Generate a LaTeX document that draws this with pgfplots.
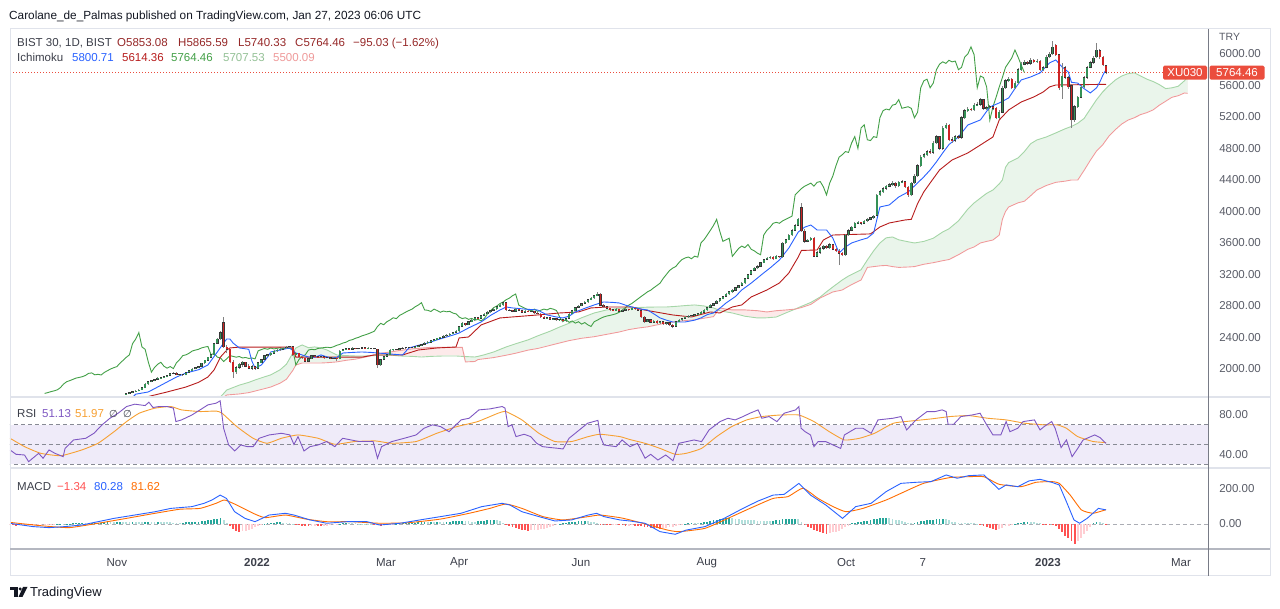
\documentclass[border=0pt]{standalone}
\usepackage{fontspec}
\setmainfont{Liberation Sans}
\newfontfamily\dejavu{DejaVu Sans}
\usepackage{pgfplots}
\usepackage{pgfplotstable}
\pgfplotsset{compat=1.18}

\definecolor{tvtext}{RGB}{19,23,34}
\definecolor{tvdark}{RGB}{60,63,74}
\definecolor{axgray}{RGB}{90,93,104}
\definecolor{maroon}{RGB}{150,40,40}
\definecolor{tenkan}{RGB}{41,98,255}
\definecolor{kijun}{RGB}{183,28,28}
\definecolor{chikou}{RGB}{67,160,71}
\definecolor{spanA}{RGB}{165,214,167}
\definecolor{spanB}{RGB}{239,154,154}
\definecolor{cloudG}{RGB}{234,245,235}
\definecolor{cloudR}{RGB}{253,234,234}
\definecolor{upc}{RGB}{52,145,86}
\definecolor{dnc}{RGB}{205,36,36}
\definecolor{edgec}{RGB}{55,55,55}
\definecolor{wick}{RGB}{130,130,130}
\definecolor{rsiline}{RGB}{126,87,194}
\definecolor{rsima}{RGB}{247,160,50}
\definecolor{rsiband}{RGB}{239,235,249}
\definecolor{dashgray}{RGB}{135,138,148}
\definecolor{macdline}{RGB}{41,98,255}
\definecolor{sigline}{RGB}{255,109,0}
\definecolor{hgreen}{RGB}{38,166,154}
\definecolor{hlgreen}{RGB}{178,223,219}
\definecolor{hred}{RGB}{255,82,82}
\definecolor{hpink}{RGB}{255,205,210}
\definecolor{labelred}{RGB}{235,77,61}
\definecolor{sepc}{RGB}{224,227,235}
\definecolor{scalec}{RGB}{120,123,134}
\definecolor{timec}{RGB}{180,183,192}

\newcommand\tvf{\fontsize{11.5}{13}\selectfont}

\pgfplotstableread{
k o h l c
-41 1680 1698 1672 1690
-40 1690 1708 1684 1700
-39 1700 1718 1694 1712
-38 1712 1730 1706 1722
-37 1722 1742 1716 1735
-36 1735 1770 1730 1762
-35 1762 1818 1756 1808
-34 1808 1846 1800 1838
-33 1838 1862 1830 1852
-32 1852 1876 1844 1868
-31 1868 1892 1860 1884
-30 1884 1902 1876 1893
-29 1893 1910 1886 1902
-28 1902 1926 1894 1918
-27 1918 1952 1912 1944
-26 1944 1962 1936 1950
-25 1950 1956 1918 1926
-24 1926 1940 1916 1932
-23 1932 1940 1914 1924
-22 1924 1962 1918 1956
-21 1956 1984 1950 1978
-20 1978 2008 1972 2000
-19 2000 2024 1994 2016
-18 2016 2040 2008 2030
-17 2030 2082 2024 2074
-16 2074 2118 2066 2110
-15 2110 2156 2102 2148
-14 2148 2190 2140 2180
-13 2180 2332 2176 2322
-12 2322 2392 2314 2380
-11 2380 2480 2372 2462
-10 2590 2660 2270 2280
-9 2275 2300 2200 2250
-8 2250 2260 2070 2090
-7 2090 2110 1890 1960
-6 1960 2040 1940 2020
-5 2020 2080 2000 2060
-4 2060 2100 2030 2085
-3 2085 2090 2020 2035
-2 2035 2060 1995 2010
-1 2010 2050 1990 2030
0 2030 2040 1990 2005
1 2005 2090 2000 2080
2 2080 2130 2070 2120
3 2120 2180 2110 2170
4 2170 2195 2150 2180
5 2180 2212 2170 2200
6 2200 2236 2192 2228
7 2228 2252 2218 2240
8 2240 2262 2230 2250
9 2250 2278 2242 2268
10 2268 2288 2258 2278
11 2278 2296 2268 2286
12 2286 2295 2170 2180
13 2180 2215 2172 2200
14 2200 2208 2140 2150
15 2150 2162 2130 2140
16 2140 2150 2085 2095
17 2095 2140 2088 2130
18 2130 2180 2124 2170
19 2170 2176 2150 2160
20 2160 2168 2142 2150
21 2150 2166 2144 2158
22 2158 2162 2132 2140
23 2140 2154 2134 2146
24 2146 2150 2126 2134
25 2134 2150 2128 2140
26 2140 2146 2100 2128
27 2128 2240 2124 2230
28 2230 2256 2222 2246
29 2246 2270 2238 2260
30 2260 2266 2242 2250
31 2250 2274 2244 2266
32 2266 2272 2248 2255
33 2255 2270 2248 2262
34 2262 2280 2254 2270
35 2270 2276 2248 2256
36 2256 2274 2250 2266
37 2266 2272 2252 2260
38 2260 2266 2248 2256
39 2250 2260 2010 2050
40 2050 2130 2040 2120
41 2120 2170 2110 2160
42 2160 2190 2150 2180
43 2180 2248 2172 2240
44 2240 2260 2232 2250
45 2250 2256 2236 2244
46 2244 2268 2238 2260
47 2260 2274 2252 2266
48 2266 2280 2258 2272
49 2272 2284 2264 2276
50 2276 2282 2262 2270
51 2270 2290 2264 2282
52 2282 2308 2276 2300
53 2300 2320 2292 2312
54 2312 2338 2304 2330
55 2330 2350 2322 2340
56 2340 2370 2334 2362
57 2362 2380 2354 2372
58 2372 2398 2364 2390
59 2390 2410 2382 2402
60 2402 2428 2396 2420
61 2420 2440 2412 2432
62 2432 2454 2424 2446
63 2446 2470 2438 2462
64 2462 2490 2454 2480
65 2480 2550 2474 2540
66 2540 2592 2532 2580
67 2580 2590 2552 2562
68 2562 2610 2556 2600
69 2600 2632 2592 2622
70 2622 2660 2614 2650
71 2650 2658 2632 2640
72 2640 2690 2634 2680
73 2680 2710 2672 2700
74 2700 2732 2692 2722
75 2722 2752 2714 2742
76 2742 2770 2734 2760
77 2760 2800 2752 2790
78 2790 2822 2782 2812
79 2812 2852 2806 2842
80 2842 2850 2740 2750
81 2750 2760 2736 2745
82 2745 2752 2720 2730
83 2730 2770 2724 2760
84 2760 2766 2734 2742
85 2742 2750 2712 2720
86 2720 2746 2714 2736
87 2736 2744 2718 2726
88 2726 2742 2720 2732
89 2732 2738 2702 2710
90 2710 2718 2692 2700
91 2700 2706 2652 2660
92 2660 2668 2632 2640
93 2640 2660 2634 2650
94 2650 2656 2622 2630
95 2630 2650 2624 2642
96 2642 2648 2612 2620
97 2620 2640 2614 2630
98 2630 2636 2602 2612
99 2612 2650 2600 2640
100 2640 2710 2634 2700
101 2700 2750 2694 2740
102 2740 2790 2734 2780
103 2780 2812 2772 2800
104 2800 2840 2794 2830
105 2830 2862 2822 2850
106 2850 2890 2842 2880
107 2880 2912 2872 2900
108 2900 2940 2892 2930
109 2930 2975 2922 2952
110 2950 2960 2800 2810
111 2810 2820 2780 2790
112 2790 2800 2760 2770
113 2770 2778 2742 2752
114 2752 2760 2730 2740
115 2740 2770 2734 2760
116 2760 2766 2722 2732
117 2732 2756 2726 2746
118 2746 2770 2740 2760
119 2760 2766 2742 2750
120 2750 2780 2744 2770
121 2770 2776 2752 2760
122 2760 2766 2734 2742
123 2742 2750 2650 2660
124 2660 2668 2590 2600
125 2600 2640 2594 2630
126 2630 2636 2582 2592
127 2592 2620 2586 2610
128 2610 2616 2572 2582
129 2582 2610 2576 2600
130 2600 2606 2562 2570
131 2570 2598 2564 2590
132 2590 2596 2552 2560
133 2560 2566 2515 2540
134 2540 2610 2534 2600
135 2600 2630 2594 2620
136 2620 2650 2614 2642
137 2642 2668 2636 2660
138 2660 2680 2652 2672
139 2672 2688 2664 2680
140 2680 2698 2672 2690
141 2690 2710 2682 2702
142 2702 2730 2694 2720
143 2720 2760 2712 2750
144 2750 2790 2742 2780
145 2780 2820 2772 2810
146 2810 2842 2802 2832
147 2832 2872 2824 2862
148 2862 2902 2854 2892
149 2892 2932 2884 2922
150 2922 2960 2914 2950
151 2950 2990 2942 2980
152 2980 3012 2970 3000
153 3000 3042 2990 3032
154 3032 3070 3022 3060
155 3060 3100 3050 3090
156 3090 3160 3080 3150
157 3150 3212 3140 3200
158 3200 3262 3190 3250
159 3250 3292 3240 3280
160 3280 3315 3268 3302
161 3302 3362 3292 3350
162 3350 3402 3340 3390
163 3390 3424 3378 3410
164 3410 3436 3398 3422
165 3422 3430 3388 3400
166 3400 3444 3392 3432
167 3432 3440 3408 3420
168 3420 3612 3414 3600
169 3600 3656 3590 3642
170 3642 3714 3632 3700
171 3700 3774 3690 3760
172 3760 3836 3750 3822
173 3822 3914 3810 3900
174 4050 4110 3740 3750
175 3750 3780 3600 3620
176 3620 3656 3606 3640
177 3640 3676 3626 3660
178 3660 3670 3420 3430
179 3430 3494 3416 3480
180 3480 3546 3466 3530
181 3530 3576 3516 3560
182 3560 3572 3526 3540
183 3540 3596 3526 3580
184 3580 3590 3506 3520
185 3520 3530 3486 3500
186 3500 3520 3320 3470
187 3470 3480 3436 3450
188 3450 3710 3440 3700
189 3700 3776 3690 3760
190 3760 3816 3748 3800
191 3800 3866 3790 3850
192 3850 3878 3836 3862
193 3862 3872 3834 3850
194 3850 3896 3840 3880
195 3880 3916 3868 3900
196 3900 3936 3888 3920
197 3920 3956 3908 3940
198 3950 4220 3940 4210
199 4210 4270 4196 4250
200 4250 4310 4236 4290
201 4290 4340 4276 4320
202 4320 4360 4306 4340
203 4340 4382 4326 4360
204 4360 4372 4300 4322
205 4322 4392 4310 4370
206 4370 4400 4356 4380
207 4380 4392 4298 4312
208 4312 4324 4190 4210
209 4210 4376 4196 4360
210 4360 4470 4346 4450
211 4450 4600 4436 4580
212 4580 4712 4566 4690
213 4690 4742 4674 4720
214 4720 4782 4704 4760
215 4760 4790 4730 4750
216 4750 4892 4736 4870
217 4870 4972 4856 4950
218 4950 4964 4786 4800
219 4800 5082 4786 5060
220 5060 5124 5044 5100
221 5100 5112 4890 4910
222 4910 4940 4870 4900
223 4900 4976 4884 4950
224 4950 4966 4920 4940
225 4940 5212 4926 5190
226 5190 5302 5176 5280
227 5280 5324 5264 5300
228 5300 5316 5270 5290
229 5290 5372 5276 5350
230 5350 5384 5334 5360
231 5360 5442 5344 5420
232 5420 5432 5290 5310
233 5310 5344 5294 5320
234 5320 5352 5304 5330
235 5330 5342 5290 5310
236 5310 5322 5170 5190
237 5190 5284 5176 5260
238 5260 5592 5246 5570
239 5570 5686 5556 5660
240 5660 5704 5640 5680
241 5680 5692 5550 5570
242 5570 5654 5556 5630
243 5630 5822 5616 5800
244 5800 5902 5786 5870
245 5870 5926 5856 5900
246 5900 5914 5860 5880
247 5880 5944 5866 5920
248 5920 5934 5880 5900
249 5900 5932 5886 5910
250 5910 5922 5780 5800
251 5800 5852 5786 5830
252 5830 5982 5816 5960
253 5960 6024 5946 6000
254 6000 6170 5986 6090
255 6110 6130 5980 5990
256 5990 6000 5540 5570
257 5580 5880 5430 5720
258 5830 5850 5680 5700
259 5700 5720 5560 5580
260 5600 5620 5060 5160
261 5160 5350 5140 5330
262 5330 5470 5316 5450
263 5450 5600 5436 5580
264 5580 5722 5566 5700
265 5700 5852 5686 5830
266 5830 5912 5816 5890
267 5890 5974 5876 5950
268 5960 6140 5950 6050
269 6040 6060 5940 5960
270 5960 5980 5850 5860
271 5853.08 5865.59 5740.33 5764.46
}\candles

\pgfplotstableread[row sep=\\]{
k T\\
-40 1600\\ -38 1680\\ -34 1708\\ -31 1771\\ -28 1835\\ -25 1898\\ -22 1949\\ -18 1990\\ -15 2051\\ -12 2216\\
-10 2330\\ -9 2381\\ -8 2381\\ -7 2330\\ -5 2267\\ -2 2250\\ -1 2100\\ 0 2013\\ 2 2050\\ 4 2150\\
5 2216\\ 8 2241\\ 11 2267\\ 13 2203\\ 15 2178\\ 17 2152\\ 19 2150\\ 21 2178\\ 24 2140\\ 26 2145\\
28 2203\\ 31 2210\\ 34 2216\\ 37 2210\\ 39 2203\\ 43 2190\\ 47 2178\\ 49 2267\\ 52 2300\\ 55 2330\\
58 2370\\ 60 2394\\ 63 2430\\ 65 2457\\ 68 2521\\ 72 2597\\ 75 2680\\ 78 2749\\ 80 2787\\ 82 2775\\
86 2760\\ 90 2749\\ 93 2686\\ 96 2660\\ 98 2648\\ 100 2670\\ 102 2724\\ 105 2770\\ 108 2813\\ 111 2851\\
114 2845\\ 116 2838\\ 118 2810\\ 120 2787\\ 123 2760\\ 125 2749\\ 127 2700\\ 129 2648\\ 131 2620\\ 133 2597\\
137 2597\\ 140 2620\\ 142 2648\\ 144 2690\\ 146 2711\\ 148 2770\\ 150 2838\\ 153 2920\\ 155 3003\\ 158 3090\\
160 3155\\ 162 3220\\ 164 3282\\ 167 3384\\ 170 3536\\ 173 3739\\ 175 3800\\ 177 3828\\ 179 3765\\ 182 3765\\
184 3663\\ 186 3473\\ 188 3549\\ 190 3600\\ 193 3640\\ 195 3663\\ 197 3727\\ 199 4057\\ 202 4083\\ 205 4184\\
208 4248\\ 211 4362\\ 213 4440\\ 215 4527\\ 217 4630\\ 219 4743\\ 221 4850\\ 224 4946\\ 227 5098\\ 231 5162\\
234 5327\\ 237 5378\\ 240 5441\\ 242 5560\\ 244 5670\\ 247 5708\\ 250 5759\\ 253 5886\\ 255 5924\\ 257 5835\\
259 5771\\ 260 5640\\ 262 5630\\ 264 5560\\ 266 5505\\ 268 5570\\ 269 5640\\ 270 5730\\ 271 5800.71\\
}\tenkantab

\pgfplotstableread[row sep=\\]{
k J\\
-36 1600\\ -34 1650\\ -28 1708\\ -22 1771\\ -18 1830\\ -15 1898\\ -13 1990\\ -11 2152\\ -9 2240\\ -8 2267\\
-5 2278\\ 12 2278\\ 13 2150\\ 34 2150\\ 38 2178\\ 47 2178\\ 52 2241\\ 58 2267\\ 64 2279\\ 65 2394\\
68 2406\\ 72 2559\\ 78 2648\\ 90 2686\\ 97 2711\\ 103 2724\\ 107 2775\\ 112 2787\\ 120 2787\\ 124 2749\\
133 2686\\ 139 2660\\ 145 2724\\ 148 2711\\ 152 2787\\ 155 2813\\ 158 2914\\ 163 3003\\ 167 3092\\ 170 3219\\
173 3422\\ 174 3505\\ 179 3511\\ 181 3638\\ 184 3701\\ 196 3715\\ 199 3803\\ 202 3854\\ 207 3892\\ 209 3900\\
211 4100\\ 213 4250\\ 215 4362\\ 218 4527\\ 222 4654\\ 227 4743\\ 231 4844\\ 235 4946\\ 237 5162\\ 240 5289\\
244 5390\\ 248 5454\\ 251 5517\\ 253 5581\\ 255 5606\\ 271 5614.36\\
}\kijuntab

\pgfplotstableread[row sep=\\]{
k A B\\
-12 1600 1590\\ -9 1733 1670\\ -5 1795 1683\\ -2 1830 1700\\ 0 1860 1720\\ 3 1900 1750\\ 5 1925 1771\\ 8 1990 1820\\
10 2060 1870\\ 12 2200 1980\\ 13 2267 2051\\ 15 2305 2076\\ 17 2270 2076\\ 19 2280 2076\\ 21 2267 2076\\ 23 2240 2080\\
26 2178 2090\\ 29 2170 2110\\ 32 2165 2125\\ 35 2165 2150\\ 38 2170 2180\\ 40 2175 2200\\ 43 2178 2215\\ 46 2165 2235\\
50 2160 2255\\ 53 2152 2265\\ 56 2160 2275\\ 60 2165 2275\\ 64 2165 2275\\ 66 2160 2275\\ 67 2158 2090\\ 70 2152 2095\\
71 2160 2120\\ 73 2180 2130\\ 76 2216 2145\\ 80 2280 2175\\ 83 2320 2200\\ 87 2370 2240\\ 90 2420 2260\\ 94 2480 2300\\
97 2533 2330\\ 100 2580 2360\\ 104 2650 2390\\ 108 2711 2410\\ 112 2750 2440\\ 116 2770 2470\\ 119 2775 2500\\ 122 2780 2520\\
125 2785 2535\\ 128 2787 2560\\ 131 2787 2585\\ 134 2795 2600\\ 137 2805 2615\\ 140 2813 2625\\ 143 2800 2645\\ 146 2775 2665\\
148 2740 2775\\ 150 2725 2760\\ 152 2711 2750\\ 156 2670 2750\\ 160 2648 2740\\ 163 2650 2724\\ 166 2660 2740\\ 169 2711 2749\\
172 2760 2760\\ 174 2795 2780\\ 177 2845 2820\\ 180 2914 2902\\ 182 2980 2940\\ 184 3041 2978\\ 187 3130 3003\\ 189 3180 3050\\
191 3220 3092\\ 193 3260 3130\\ 195 3384 3290\\ 197 3500 3300\\ 199 3600 3310\\ 201 3665 3315\\ 203 3676 3300\\ 205 3640 3290\\
208 3615 3295\\ 210 3600 3300\\ 213 3620 3330\\ 216 3660 3350\\ 219 3740 3375\\ 221 3780 3390\\ 224 3880 3450\\ 227 4030 3520\\
229 4108 3550\\ 231 4170 3600\\ 233 4230 3620\\ 235 4273 3638\\ 237 4350 3700\\ 238 4400 3900\\ 239 4560 4000\\ 240 4620 4057\\
243 4680 4110\\ 245 4760 4130\\ 247 4860 4200\\ 249 4908 4273\\ 252 4946 4330\\ 255 4997 4370\\ 258 5050 4385\\ 260 5080 4400\\
262 5120 4400\\ 264 5180 4520\\ 266 5300 4650\\ 268 5420 4770\\ 270 5520 4850\\ 272 5600 4960\\ 274 5670 5040\\ 276 5720 5110\\
278 5750 5160\\ 280 5760 5190\\ 282 5720 5230\\ 284 5680 5255\\ 286 5650 5290\\ 288 5610 5350\\ 290 5560 5400\\ 292 5570 5450\\
294 5590 5470\\ 296 5660 5505\\ 297 5707.53 5500.09\\
}\spans

\pgfplotstableread[row sep=\\]{
k r\\
-78.0 44.4\\ -76.1 40\\ -73.4 39.3\\ -72.1 32.5\\ -70.8 36\\ -68.9 41\\ -67.5 36\\ -65.6 44.4\\ -63.7 41\\ -61.1 37.6\\
-60.5 46\\ -57.8 54.6\\ -53.9 56.3\\ -51.3 61.4\\ -48.7 70\\ -46.2 76.7\\ -43.6 81.8\\ -40.9 88.6\\ -38.3 91\\ -35.0 89.6\\
-33.8 93\\ -32.5 87.6\\ -30.6 88.6\\ -28.0 88.6\\ -26.0 87\\ -25.2 73.3\\ -23.4 75\\ -20.1 80\\ -17.5 85.2\\ -15.0 90.3\\
-12.4 92\\ -11.1 94.4\\ -10.0 66.5\\ -8.4 49.5\\ -6.5 43.4\\ -4.5 49.5\\ -2.5 47.8\\ -0.6 47.8\\ 1.3 56.3\\ 4.5 59.7\\
8.4 61.4\\ 11.1 59.7\\ 12.4 50\\ 13.7 58\\ 15.6 43.4\\ 17.5 47.8\\ 20.1 49.5\\ 22.8 53\\ 25.4 47.8\\ 27.9 56.3\\
30.6 54.6\\ 33.1 53\\ 35.7 53\\ 37.6 53\\ 39.0 36\\ 40.3 47.8\\ 43.6 53\\ 47.5 56.3\\ 51.3 59.7\\ 53.8 66.5\\
56.5 70\\ 59.1 68.2\\ 61.8 63\\ 65.6 75\\ 68.2 76.7\\ 71.3 85.2\\ 74.8 86.2\\ 78.7 88.6\\ 79.6 87\\ 80.6 68.2\\
81.8 70\\ 83.1 58\\ 85.7 60.4\\ 87.8 58\\ 89.7 51.2\\ 91.6 47.8\\ 94.3 46.8\\ 96.8 46\\ 98.1 45.4\\ 100.0 56.3\\
103.3 64.8\\ 105.9 71.6\\ 107.8 73.3\\ 109.2 74.5\\ 110.0 58\\ 111.1 49.5\\ 115.0 47.8\\ 116.9 54.6\\ 119.4 47.8\\ 121.8 51.2\\
124.2 36\\ 126.0 40\\ 128.3 34.2\\ 130.8 39.3\\ 133.1 33.5\\ 135.0 51.2\\ 137.4 52.9\\ 139.8 54.6\\ 142.2 52.9\\ 144.6 64.8\\
148.1 73.3\\ 150.6 76.7\\ 152.9 75\\ 155.4 78.4\\ 157.6 81.8\\ 160.2 85.2\\ 161.4 76.7\\ 163.7 78.4\\ 166.2 73.3\\ 168.5 81.8\\
172.2 85.2\\ 173.2 88.6\\ 173.9 66.5\\ 175.2 63\\ 176.9 59.7\\ 178.0 47.8\\ 179.3 52.9\\ 181.8 52.9\\ 184.1 49.5\\ 186.5 46\\
187.7 59.7\\ 191.3 66.5\\ 193.6 66.5\\ 196.2 61.4\\ 198.4 75\\ 203.2 76.7\\ 205.7 78.4\\ 207.5 64.8\\ 210.5 75\\ 214.0 83.5\\
216.6 83.5\\ 218.8 85.2\\ 220.1 83.5\\ 220.7 70.6\\ 222.5 70.6\\ 224.8 78.4\\ 228.5 80.1\\ 230.9 81.8\\ 232.7 71.6\\ 235.0 59.7\\
237.5 59.7\\ 239.2 73.3\\ 240.4 63\\ 242.9 66.5\\ 244.6 73.3\\ 248.2 75\\ 250.0 64.8\\ 251.3 68.2\\ 253.7 73.3\\ 254.8 66.5\\
256.7 46.8\\ 258.4 54.6\\ 260.2 37.6\\ 262.0 46\\ 263.7 54.6\\ 267.4 59.7\\ 269.1 57\\ 271 51.13\\
}\rsitab

\pgfplotstableread[row sep=\\]{
k m\\
-78.0 56.3\\ -73.4 47.8\\ -68.2 41\\ -61.8 38.6\\ -55.2 44.4\\ -50.0 51.2\\ -44.9 63\\ -40.9 73.3\\ -36.9 81.8\\ -31.8 87\\
-26.8 88.6\\ -23.4 85.2\\ -17.5 83.5\\ -12.4 84\\ -10.5 81.8\\ -5.8 68.2\\ -0.6 56.3\\ 3.8 51.2\\ 8.4 56.3\\ 13.7 59.7\\
20.1 56.3\\ 25.4 50.2\\ 31.8 53\\ 38.4 53.6\\ 43.6 51.2\\ 51.3 53\\ 57.9 61.4\\ 64.3 68.2\\ 70.9 73.3\\ 77.4 81.8\\
79.9 83.5\\ 85.0 75\\ 90.4 61.4\\ 95.5 53\\ 100.8 53\\ 106.1 58\\ 109.9 60.4\\ 116.2 58\\ 119.4 55\\ 124.2 51.2\\
129.0 46\\ 133.8 40\\ 137.3 41\\ 142.2 46\\ 147.0 58\\ 151.8 68.2\\ 156.6 75\\ 161.4 78.4\\ 167.4 80\\ 173.2 80\\
178.0 73.3\\ 182.9 63\\ 187.7 54.6\\ 192.5 56.3\\ 197.3 61.4\\ 203.3 71.6\\ 209.2 74\\ 215.3 76\\ 221.3 78.4\\ 227.3 79.4\\
233.3 76.7\\ 239.2 75\\ 245.2 71.6\\ 251.3 70\\ 255.4 70\\ 258.4 66.5\\ 262.0 58\\ 266.9 53\\ 271 51.97\\
}\rsimatab

\pgfplotstableread[row sep=\\]{
k m\\
-78.0 3.6\\ -70.7 -15\\ -65.6 -21\\ -60.5 -15\\ -55.2 -6\\ -50.0 13\\ -44.9 32\\ -38.3 51\\ -31.8 70\\ -26.8 89\\
-20.1 99\\ -16.2 118\\ -13.7 137\\ -11.1 165\\ -9.1 146\\ -6.5 70\\ -3.2 32\\ 0 13\\ 4.5 51\\ 9.7 61\\
12.4 51\\ 17.5 23\\ 22.8 4\\ 29.3 13\\ 35.7 13\\ 39.6 -6\\ 46.2 4\\ 52.5 23\\ 59.1 42\\ 65.6 61\\
72.2 99\\ 78.7 118\\ 81.2 108\\ 85.0 70\\ 90.4 42\\ 95.5 17\\ 100.8 23\\ 106.1 51\\ 108.8 61\\ 111.1 42\\
116.2 23\\ 119.4 17\\ 124.2 4\\ 129.0 -44\\ 133.8 -59\\ 137.3 -35\\ 143.3 -15\\ 149.4 32\\ 155.4 89\\ 160.2 131\\
165.0 165\\ 168.5 169\\ 173.2 232\\ 176.9 165\\ 181.8 108\\ 187.1 32\\ 191.3 99\\ 196.2 118\\ 201.0 185\\ 205.7 232\\
210.5 238\\ 215.3 242\\ 220.1 280\\ 223.6 261\\ 227.3 276\\ 232.1 280\\ 236.9 198\\ 239.2 223\\ 242.9 213\\ 246.5 246\\
250.0 255\\ 253.7 238\\ 256.1 223\\ 258.4 127\\ 260.8 23\\ 262.6 4\\ 265.0 32\\ 268.6 89\\ 271 80.28\\
}\macdtab

\pgfplotstableread[row sep=\\]{
k s\\
-78.0 9\\ -68.2 -10\\ -59.2 -21\\ -50.0 4\\ -42.2 28\\ -31.8 61\\ -24.0 84\\ -17.5 89\\ -12.4 118\\ -9.7 137\\
-5.8 108\\ -0.6 61\\ 3.2 36\\ 9.7 51\\ 16.2 28\\ 22.8 13\\ 30.6 13\\ 39.6 4\\ 48.7 7\\ 59.1 28\\
68.2 61\\ 74.8 89\\ 79.9 114\\ 85.0 89\\ 91.7 42\\ 98.1 23\\ 106.1 42\\ 109.9 51\\ 116.2 36\\ 119.4 23\\
125.5 -6\\ 131.4 -35\\ 135.0 -44\\ 143.3 -25\\ 150.6 32\\ 157.6 89\\ 165.0 146\\ 169.7 156\\ 174.5 204\\ 179.3 146\\
184.1 99\\ 188.2 70\\ 193.6 89\\ 201.0 137\\ 205.7 175\\ 212.9 232\\ 221.3 265\\ 227.3 270\\ 232.1 270\\ 236.9 227\\
243.9 213\\ 248.7 238\\ 253.7 242\\ 256.1 232\\ 259.6 165\\ 263.2 80\\ 266.9 61\\ 271 81.62\\
}\sigtab

\pgfplotstableread[row sep=\\]{
k v t\\
-78 -7 2\\ -77 -8 2\\ -76 -9 2\\ -75 -8 3\\ -74 -7 3\\ -73 -6 3\\ -72 -5 3\\ -71 -6 2\\ -70 -5 3\\ -69 -4 3\\
-68 -3 3\\ -67 -3 3\\ -66 -2 3\\ -65 -2 3\\ -64 -1 3\\ -63 1 0\\ -62 1 0\\ -61 0.5 1\\ -60 1 0\\ -59 2 0\\
-58 3 0\\ -57 4 0\\ -56 4 0\\ -55 5 0\\ -54 5 1\\ -53 4 1\\ -52 5 0\\ -51 6 0\\ -50 7 0\\ -49 8 0\\
-48 9 0\\ -47 10 0\\ -46 10 1\\ -45 9 1\\ -44 10 0\\ -43 11 0\\ -42 11 1\\ -41 10 1\\ -40 10 1\\ -39 11 0\\
-38 11 1\\ -37 10 1\\ -36 10 1\\ -35 11 0\\ -34 12 0\\ -33 11 1\\ -32 11 1\\ -31 12 0\\ -30 12 1\\ -29 11 1\\
-28 10 1\\ -27 9 1\\ -26 8 1\\ -25 7 1\\ -24 7 1\\ -23 8 0\\ -22 9 0\\ -21 10 0\\ -20 11 0\\ -19 12 0\\
-18 14 0\\ -17 16 0\\ -16 18 0\\ -15 21 0\\ -14 24 0\\ -13 27 0\\ -12 30 0\\ -11 32 0\\ -10 22 1\\ -9 8 1\\
-8 -12 2\\ -7 -28 2\\ -6 -40 2\\ -5 -44 2\\ -4 -42 3\\ -3 -38 3\\ -2 -32 3\\ -1 -26 3\\ 0 -18 3\\ 1 -10 3\\
2 -4 3\\ 3 2 0\\ 4 5 0\\ 5 7 0\\ 6 8 0\\ 7 9 0\\ 8 10 0\\ 9 8 1\\ 10 6 1\\ 11 4 1\\
12 1 1\\ 13 -3 2\\ 14 -6 2\\ 15 -9 2\\ 16 -12 2\\ 17 -14 2\\ 18 -13 3\\ 19 -12 3\\ 20 -12 2\\ 21 -13 2\\
22 -11 3\\ 23 -9 3\\ 24 -7 3\\ 25 -5 3\\ 26 -3 3\\ 27 1 0\\ 28 3 0\\ 29 4 0\\ 30 4 1\\ 31 3 1\\
32 3 1\\ 33 2 1\\ 34 2 1\\ 35 1 1\\ 36 1 1\\ 37 0.5 1\\ 38 -2 2\\ 39 -6 2\\ 40 -9 2\\ 41 -8 3\\
42 -6 3\\ 43 -4 3\\ 44 -2 3\\ 45 1 0\\ 46 3 0\\ 47 4 0\\ 48 5 0\\ 49 6 0\\ 50 7 0\\ 51 8 0\\
52 9 0\\ 53 10 0\\ 54 11 0\\ 55 11 1\\ 56 12 0\\ 57 12 1\\ 58 13 0\\ 59 13 1\\ 60 12 1\\ 61 13 0\\
62 14 0\\ 63 15 0\\ 64 16 0\\ 65 17 0\\ 66 18 0\\ 67 17 1\\ 68 15 1\\ 69 14 1\\ 70 13 1\\ 71 15 0\\
72 17 0\\ 73 19 0\\ 74 20 0\\ 75 21 0\\ 76 22 0\\ 77 20 1\\ 78 15 1\\ 79 8 1\\ 80 -3 2\\ 81 -10 2\\
82 -18 2\\ 83 -24 2\\ 84 -30 2\\ 85 -34 2\\ 86 -37 2\\ 87 -38 2\\ 88 -36 3\\ 89 -35 3\\ 90 -32 3\\ 91 -30 3\\
92 -26 3\\ 93 -22 3\\ 94 -18 3\\ 95 -12 3\\ 96 -6 3\\ 97 2 0\\ 98 5 0\\ 99 8 0\\ 100 10 0\\ 101 12 0\\
102 14 0\\ 103 15 0\\ 104 16 0\\ 105 17 0\\ 106 17 1\\ 107 14 1\\ 108 10 1\\ 109 5 1\\ 110 -2 2\\ 111 -5 2\\
112 -7 2\\ 113 -8 2\\ 114 -7 3\\ 115 -6 3\\ 116 -7 2\\ 117 -8 2\\ 118 -9 2\\ 119 -9 3\\ 120 -8 3\\ 121 -9 2\\
122 -11 2\\ 123 -14 2\\ 124 -17 2\\ 125 -20 2\\ 126 -22 2\\ 127 -24 2\\ 128 -25 2\\ 129 -26 2\\ 130 -25 3\\ 131 -22 3\\
132 -19 3\\ 133 -15 3\\ 134 -12 3\\ 135 -8 3\\ 136 -4 3\\ 137 1 0\\ 138 3 0\\ 139 4 0\\ 140 5 1\\ 141 4 1\\
142 6 0\\ 143 10 0\\ 144 14 0\\ 145 18 0\\ 146 22 0\\ 147 25 0\\ 148 28 0\\ 149 30 0\\ 150 32 0\\ 151 33 0\\
152 32 1\\ 153 30 1\\ 154 28 1\\ 155 25 1\\ 156 24 1\\ 157 22 1\\ 158 21 1\\ 159 20 1\\ 160 19 1\\ 161 18 1\\
162 17 1\\ 163 16 1\\ 164 15 1\\ 165 18 0\\ 166 21 0\\ 167 24 0\\ 168 26 0\\ 169 28 0\\ 170 29 0\\ 171 30 0\\
172 31 0\\ 173 28 1\\ 174 12 1\\ 175 -5 2\\ 176 -15 2\\ 177 -25 2\\ 178 -35 2\\ 179 -42 2\\ 180 -48 2\\ 181 -52 2\\
182 -55 2\\ 183 -52 3\\ 184 -48 3\\ 185 -44 3\\ 186 -38 3\\ 187 -30 3\\ 188 -20 3\\ 189 -10 3\\ 190 4 0\\ 191 8 0\\
192 12 0\\ 193 14 0\\ 194 15 0\\ 195 16 0\\ 196 20 0\\ 197 26 0\\ 198 30 0\\ 199 33 0\\ 200 35 0\\ 201 36 0\\
202 34 1\\ 203 30 1\\ 204 25 1\\ 205 20 1\\ 206 15 1\\ 207 10 1\\ 208 6 1\\ 209 4 1\\ 210 8 0\\ 211 12 0\\
212 16 0\\ 213 19 0\\ 214 21 0\\ 215 22 0\\ 216 24 0\\ 217 26 0\\ 218 27 0\\ 219 28 0\\ 220 26 1\\ 221 20 1\\
222 14 1\\ 223 10 1\\ 224 8 1\\ 225 7 1\\ 226 6 1\\ 227 6 1\\ 228 5 1\\ 229 3 1\\ 230 1 1\\ 231 -4 2\\
232 -10 2\\ 233 -16 2\\ 234 -24 2\\ 235 -30 2\\ 236 -36 2\\ 237 -30 3\\ 238 -22 3\\ 239 -14 3\\ 240 -10 3\\ 241 -6 3\\
242 2 0\\ 243 5 0\\ 244 8 0\\ 245 10 0\\ 246 12 0\\ 247 11 1\\ 248 10 1\\ 249 8 1\\ 250 4 1\\ 251 -2 2\\
252 -4 2\\ 253 -5 2\\ 254 -6 2\\ 255 -10 2\\ 256 -30 2\\ 257 -48 2\\ 258 -66 2\\ 259 -82 2\\ 260 -100 2\\ 261 -112 2\\
262 -100 3\\ 263 -80 3\\ 264 -58 3\\ 265 -38 3\\ 266 -20 3\\ 267 8 0\\ 268 14 0\\ 269 12 1\\ 270 6 1\\ 271 -1.34 2\\
}\histtab

\pgfplotsset{
  tvaxis/.style={
    scale only axis, anchor=south west, width=1198pt,
    xmin=-78.03, xmax=303.5,
    axis line style={draw=none},
    major tick length=0pt, tick style={draw=none},
    xtick=\empty,
    yticklabel pos=right,
    yticklabel style={font=\tvf, text=axgray, anchor=west, inner sep=0pt, xshift=11pt},
  },
}

\begin{document}
\begin{tikzpicture}[x=1pt,y=1pt]
\useasboundingbox (0,0) rectangle (1280,609);
\fill[white] (0,0) rectangle (1280,609);

% ---------------- price pane
\begin{axis}[tvaxis, at={(10pt,213pt)}, height=367pt, ymin=1657, ymax=6317,
  ytick={2000,2400,...,6000},
  yticklabels={2000.00,2400.00,2800.00,3200.00,3600.00,4000.00,4400.00,4800.00,5200.00,5600.00,6000.00}]
\addplot[fill=cloudR, draw=none, forget plot] table[x=k, y expr={max(\thisrow{A},\thisrow{B})}]{\spans} \closedcycle;
\addplot[fill=cloudG, draw=none, forget plot] table[x=k, y=A]{\spans} \closedcycle;
\addplot[fill=white, draw=white, line width=1pt, forget plot] table[x=k, y expr={min(\thisrow{A},\thisrow{B})}]{\spans} \closedcycle;
\addplot[spanA, line width=0.9pt] table[x=k,y=A]{\spans};
\addplot[spanB, line width=0.9pt] table[x=k,y=B]{\spans};
\addplot[labelred, line width=0.8pt, dash pattern=on 1pt off 2pt] coordinates {(-78,5764.46) (289.2,5764.46)};
\addplot[chikou, line width=0.9pt] table[x expr={\thisrow{k}-26}, y=c]{\candles};
\addplot[kijun!45, line width=2.4pt, restrict x to domain=257:271] table[x=k,y=J]{\kijuntab};
\addplot[kijun, line width=0.9pt] table[x=k,y=J]{\kijuntab};
\addplot[tenkan, line width=0.9pt] table[x=k,y=T]{\tenkantab};
% candles: wick, dark body edge, coloured body
\addplot[wick, line width=0.7pt, mark=none, quiver={u=0, v={\thisrow{h}-\thisrow{l}}}] table[x=k, y=l]{\candles};
\addplot[edgec, line width=2.4pt, mark=none, quiver={u=0, v={abs(\thisrow{c}-\thisrow{o})+8}}]
  table[x=k, y expr={min(\thisrow{o},\thisrow{c})-4}]{\candles};
\addplot[upc, line width=1.7pt, mark=none, quiver={u=0, v={\thisrow{c}-\thisrow{o}-4}}]
  table[x=k, y expr={\thisrow{c}-\thisrow{o}>8 ? \thisrow{o}+2 : nan}]{\candles};
\addplot[dnc, line width=1.7pt, mark=none, quiver={u=0, v={\thisrow{o}-\thisrow{c}-4}}]
  table[x=k, y expr={\thisrow{o}-\thisrow{c}>8 ? \thisrow{c}+2 : nan}]{\candles};
\end{axis}

% ---------------- RSI pane
\begin{axis}[tvaxis, at={(10pt,142pt)}, height=69pt, ymin=27.1, ymax=97.3,
  ytick={40,80}, yticklabels={40.00,80.00}]
\addplot[fill=rsiband, draw=none] coordinates {(-79,30) (304,30) (304,70) (-79,70)} -- cycle;
\addplot[dashgray, line width=0.8pt, dash pattern=on 4pt off 3pt] coordinates {(-79,70) (304,70)};
\addplot[dashgray, line width=0.8pt, dash pattern=on 4pt off 3pt] coordinates {(-79,50) (304,50)};
\addplot[dashgray, line width=0.8pt, dash pattern=on 4pt off 3pt] coordinates {(-79,30) (304,30)};
\addplot[rsima, line width=0.9pt, smooth, tension=0.3] table[x=k,y=m]{\rsimatab};
\addplot[rsiline, line width=0.9pt] table[x=k,y=r]{\rsitab};
\end{axis}

% ---------------- MACD pane
\begin{axis}[tvaxis, at={(10pt,60pt)}, height=80pt, ymin=-143, ymax=314,
  ytick={0,200}, yticklabels={0.00,200.00},
  xtick={-44.0,0.64,41.7,65.0,103.8,143.9,188.2,212.7,252.5,294.9},
  xticklabels={Nov,\textbf{2022},Mar,Apr,Jun,Aug,Oct,7,\textbf{2023},Mar},
  xticklabel style={font=\tvf, text=tvdark, anchor=center, yshift=-14pt}]
\addplot[dashgray!70, line width=0.8pt, dash pattern=on 4pt off 3pt] coordinates {(-79,0) (304,0)};
\addplot[hgreen, line width=1.8pt, mark=none, quiver={u=0, v={\thisrow{v}}}] table[x=k, y expr={\thisrow{t}==0 ? 0 : nan}]{\histtab};
\addplot[hlgreen, line width=1.8pt, mark=none, quiver={u=0, v={\thisrow{v}}}] table[x=k, y expr={\thisrow{t}==1 ? 0 : nan}]{\histtab};
\addplot[hred, line width=1.8pt, mark=none, quiver={u=0, v={\thisrow{v}}}] table[x=k, y expr={\thisrow{t}==2 ? 0 : nan}]{\histtab};
\addplot[hpink, line width=1.8pt, mark=none, quiver={u=0, v={\thisrow{v}}}] table[x=k, y expr={\thisrow{t}==3 ? 0 : nan}]{\histtab};
\addplot[sigline, line width=0.9pt, smooth, tension=0.3] table[x=k,y=s]{\sigtab};
\addplot[macdline, line width=0.9pt] table[x=k,y=m]{\macdtab};
\end{axis}

% ---------------- frame, separators
\draw[sepc, line width=1pt] (10,33) rectangle (1270,580);
\draw[sepc, line width=1.6pt] (10,212) -- (1270,212);
\draw[sepc, line width=1.6pt] (10,141) -- (1270,141);
\draw[timec, line width=1.8pt] (10,60) -- (1270,60);
\draw[scalec, line width=0.8pt] (1208,33) -- (1208,580);

% ---------------- texts
\node[anchor=base west, inner sep=0pt, text=tvtext] at (9,589) {\fontsize{11.8}{13}\selectfont Carolane\_de\_Palmas published on TradingView.com, Jan 27, 2023 06:06 UTC};

\node[anchor=base west, inner sep=0pt, text=tvdark] at (17,562) {\tvf BIST 30, 1D, BIST};
\node[anchor=base west, inner sep=0pt, text=maroon] at (117,562) {\tvf O5853.08};
\node[anchor=base west, inner sep=0pt, text=maroon] at (178,562) {\tvf H5865.59};
\node[anchor=base west, inner sep=0pt, text=maroon] at (238,562) {\tvf L5740.33};
\node[anchor=base west, inner sep=0pt, text=maroon] at (295,562) {\tvf C5764.46};
\node[anchor=base west, inner sep=0pt, text=maroon] at (353,562) {\tvf −95.03 (−1.62\%)};

\node[anchor=base west, inner sep=0pt, text=tvdark] at (17,547) {\tvf Ichimoku};
\node[anchor=base west, inner sep=0pt, text=tenkan] at (72,547) {\tvf 5800.71};
\node[anchor=base west, inner sep=0pt, text=kijun] at (122,547) {\tvf 5614.36};
\node[anchor=base west, inner sep=0pt, text=chikou] at (171,547) {\tvf 5764.46};
\node[anchor=base west, inner sep=0pt, text=spanA!90!black] at (223,547) {\tvf 5707.53};
\node[anchor=base west, inner sep=0pt, text=spanB] at (273,547) {\tvf 5500.09};

\node[anchor=base west, inner sep=0pt, text=tvdark] at (17,191) {\tvf RSI};
\node[anchor=base west, inner sep=0pt, text=rsiline] at (42,191) {\tvf 51.13};
\node[anchor=base west, inner sep=0pt, text=rsima] at (75,191) {\tvf 51.97};
\node[anchor=base west, inner sep=0pt, text=tvdark] at (109,191) {\dejavu\fontsize{10}{12}\selectfont ∅};
\node[anchor=base west, inner sep=0pt, text=tvdark] at (123,191) {\dejavu\fontsize{10}{12}\selectfont ∅};

\node[anchor=base west, inner sep=0pt, text=tvdark] at (17,118) {\tvf MACD};
\node[anchor=base west, inner sep=0pt, text=hred] at (57,118) {\tvf −1.34};
\node[anchor=base west, inner sep=0pt, text=macdline] at (94,118) {\tvf 80.28};
\node[anchor=base west, inner sep=0pt, text=sigline] at (131,118) {\tvf 81.62};

\node[anchor=west, inner sep=0pt, text=axgray] at (1219,572) {\fontsize{10.5}{12}\selectfont TRY};

\node[fill=labelred, text=white, inner sep=0pt, minimum width=44pt, minimum height=14pt, rounded corners=1.5pt] at (1185,536.4) {\tvf XU030};
\node[fill=labelred, text=white, inner sep=0pt, minimum width=55pt, minimum height=14pt, rounded corners=1.5pt] at (1237,536.4) {\tvf 5764.46};

\fill[tvtext] (10,22) rectangle (18,18.5);
\fill[tvtext] (14,22) rectangle (18,12);
\fill[tvtext] (20.2,20) circle (1.7);
\fill[tvtext] (23,22) -- (27.5,22) -- (22.5,12) -- (18.5,12) -- cycle;
\node[anchor=base west, inner sep=0pt, text=tvtext] at (30,12.5) {\fontsize{13}{15}\selectfont TradingView};
\end{tikzpicture}
\end{document}
